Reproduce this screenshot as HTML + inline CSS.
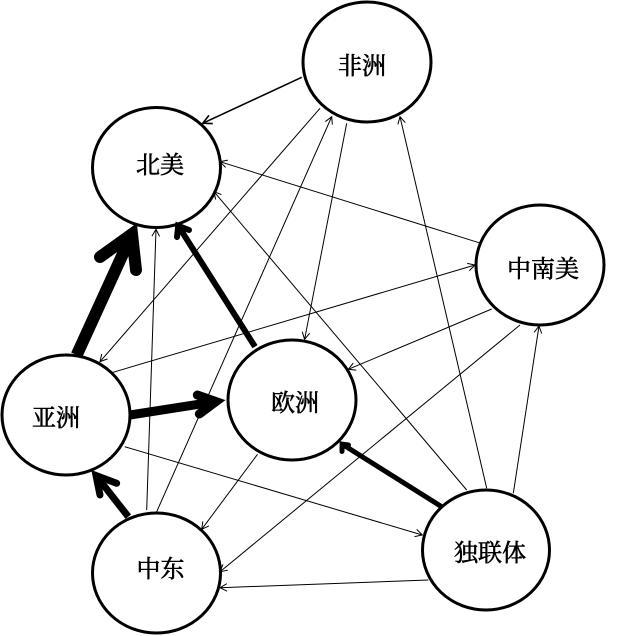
<!DOCTYPE html>
<html>
<head>
<meta charset="utf-8">
<style>
  html, body { margin: 0; padding: 0; background: #fff; }
  body { width: 630px; height: 636px; overflow: hidden; }
  svg { display: block; }
  text { font-family: "Liberation Serif", "Noto Serif CJK SC", "Noto Sans CJK SC", serif; font-size: 24px; fill: #000; stroke: #000; stroke-width: 0.6px; }
</style>
</head>
<body>
<svg width="630" height="636" viewBox="0 0 630 636" xmlns="http://www.w3.org/2000/svg">
  <defs>
    <marker id="a" markerUnits="userSpaceOnUse" markerWidth="24" markerHeight="24" viewBox="-12 -12 24 24" refX="0" refY="0" orient="auto" overflow="visible">
      <path d="M-7,-3.8 L0,0 L-7,3.8" fill="none" stroke="#000" stroke-width="1"/>
    </marker>
    <marker id="b" markerUnits="userSpaceOnUse" markerWidth="24" markerHeight="24" viewBox="-12 -12 24 24" refX="0" refY="0" orient="auto" overflow="visible">
      <path d="M-9,-4.5 L0,0 L-9,4.5" fill="none" stroke="#000" stroke-width="1.6"/>
    </marker>
  </defs>

  <!-- nodes -->
  <g fill="#fff" stroke="#000" stroke-width="3">
    <ellipse cx="367" cy="62" rx="64" ry="60"/>
    <ellipse cx="156.5" cy="167.5" rx="64" ry="60"/>
    <ellipse cx="540" cy="265" rx="64" ry="60"/>
    <ellipse cx="66" cy="415" rx="64" ry="60"/>
    <ellipse cx="292" cy="400" rx="64" ry="60"/>
    <ellipse cx="156.5" cy="573" rx="64" ry="60"/>
    <ellipse cx="486" cy="550" rx="63.5" ry="60"/>
  </g>

  <!-- thin edges -->
  <g fill="none" stroke="#000" stroke-width="1" marker-end="url(#a)">
    <path d="M478.9,242.7 L220,161.7"/>
    <path d="M466.7,490 L214,191.7"/>
    <path d="M146.7,510 L156,229.3"/>
    <path d="M320,108.3 L100,361.7"/>
    <path d="M156.7,511.7 L331.7,116.7"/>
    <path d="M346.7,123.3 L304.6,339.3"/>
    <path d="M486.7,488.3 L400,116.7"/>
    <path d="M111.7,372.7 L475,265"/>
    <path d="M491.7,309 L348.3,369.3"/>
    <path d="M520,325 L220,571.7"/>
    <path d="M513.3,493.3 L539,326"/>
    <path d="M124.7,446.7 L422.3,535"/>
    <path d="M257.5,454.3 L201.7,529.3"/>
    <path d="M428.3,580 L220,587.7"/>
  </g>
  <path d="M301.7,77.3 L202.7,123.3" fill="none" stroke="#000" stroke-width="1.6" marker-end="url(#b)"/>

  <!-- thick edges -->
  <g fill="none" stroke="#000">
    <!-- 亚洲 -> 北美 -->
    <path d="M76.7,355 L132,234" stroke-width="12"/>
    <path d="M100,257 L132,234 L136,270" stroke-width="12" stroke-linecap="round" stroke-linejoin="miter" stroke-miterlimit="10"/>
    <!-- 欧洲 -> 北美 -->
    <path d="M255,346.7 L178.2,225.8" stroke-width="6"/>
    <path d="M177,237 L178.2,225.8 L189,230" stroke-width="6" stroke-linecap="round" stroke-linejoin="miter" stroke-miterlimit="10"/>
    <!-- 亚洲 -> 欧洲 -->
    <path d="M130,415 L216,401.6" stroke-width="9"/>
    <path d="M197.3,395 L216,401.6 L199.3,414" stroke-width="9" stroke-linecap="round" stroke-linejoin="miter" stroke-miterlimit="10"/>
    <!-- 中东 -> 亚洲 -->
    <path d="M128.3,516.7 L96,475.5" stroke-width="7"/>
    <path d="M100,495 L96,475.5 L116.7,483.3" stroke-width="7" stroke-linecap="round" stroke-linejoin="miter" stroke-miterlimit="10"/>
    <!-- 独联体 -> 欧洲 -->
    <path d="M441.7,506.7 L342.1,444.1" stroke-width="5"/>
    <path d="M342,451.5 L342.1,444.1 L348.5,445" stroke-width="5" stroke-linecap="round" stroke-linejoin="miter" stroke-miterlimit="10"/>
  </g>

  <!-- labels -->
  <g text-anchor="middle" dominant-baseline="central">
    <text x="362" y="67">非洲</text>
    <text x="160" y="166">北美</text>
    <text x="543" y="270">中南美</text>
    <text x="56" y="419">亚洲</text>
    <text x="295" y="404">欧洲</text>
    <text x="160.5" y="570">中东</text>
    <text x="490" y="554">独联体</text>
  </g>
</svg>
</body>
</html>
